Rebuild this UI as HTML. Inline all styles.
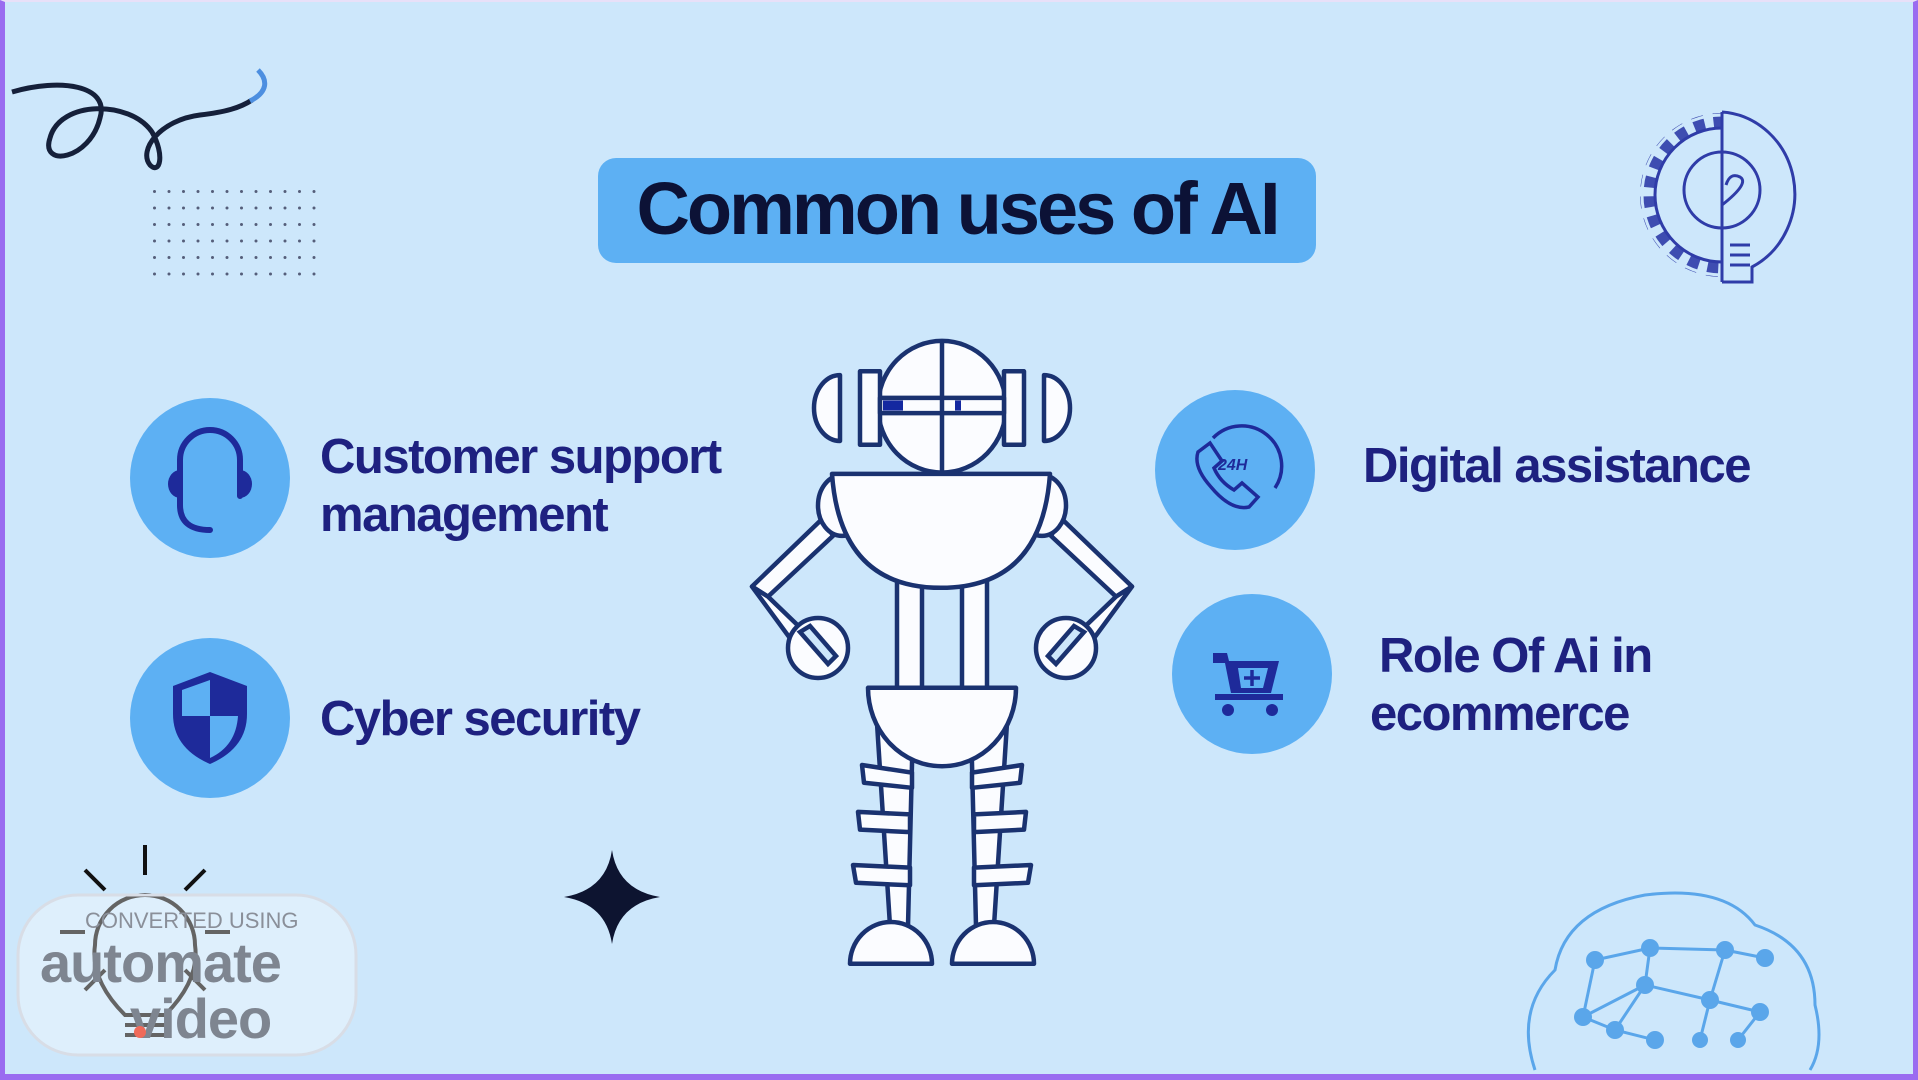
<!DOCTYPE html>
<html><head><meta charset="utf-8"><style>
html,body{margin:0;padding:0}
body{width:1918px;height:1080px;overflow:hidden;background:#cde7fb;position:relative;font-family:"Liberation Sans",sans-serif}
.t{position:absolute;color:#1e2180;font-weight:bold;font-size:49px;letter-spacing:-1.5px;line-height:58px;white-space:nowrap}
</style></head><body>
<div style="position:absolute;left:0;top:0;width:1918px;height:1080px;box-sizing:border-box;border-left:5px solid #9a6cf0;border-right:5px solid #9a6cf0;border-bottom:6px solid #9a6cf0;border-top:2px solid #e8e0f8"></div>
<div style="position:absolute;left:598px;top:158px;width:718px;height:105px;background:#5db0f3;border-radius:18px"></div>
<div style="position:absolute;left:598px;top:156px;width:718px;height:105px;line-height:105px;text-align:center;font-weight:bold;font-size:74px;color:#0c1236;letter-spacing:-3px">Common uses of AI</div>

<div class="t" style="left:320px;top:428px">Customer support<br>management</div>
<div class="t" style="left:320px;top:690px">Cyber security</div>
<div class="t" style="left:1363px;top:437px">Digital assistance</div>
<div class="t" style="left:1379px;top:627px">Role Of Ai in</div>
<div class="t" style="left:1370px;top:685px">ecommerce</div>

<svg width="1918" height="1080" style="position:absolute;left:0;top:0">
<g fill="#5db0f3">
<circle cx="210" cy="478" r="80"/><circle cx="210" cy="718" r="80"/>
<circle cx="1235" cy="470" r="80"/><circle cx="1252" cy="674" r="80"/>
</g>
<g stroke="#1e2a9a" fill="none" stroke-width="6" stroke-linecap="round">
<path d="M180 505 V460 a30 30 0 0 1 60 0 V496"/>
<path d="M180 505 q0 25 30 25"/>
</g>
<g fill="#1e2a9a"><path d="M180 470 a12 14 0 0 0 0 28z"/><path d="M240 470 a12 14 0 0 1 0 28z"/></g>
<path d="M210 672 l-37 14 v28 q0 34 37 50 q37-16 37-50 v-28z" fill="#1e2a9a"/>
<path d="M210 680 v36 h-28 v-26z M210 716 h28 q-2 30 -28 42z" fill="#5db0f3"/>
<g stroke="#1e2a9a" fill="none" stroke-width="3.5">
<path d="M1198 452 l12-9 l12 18 l-8 7 q6 14 20 22 l8-7 l16 14 l-9 10 q-18 4 -38 -20 q-18 -20 -13 -35z"/>
<path d="M1213 438 a40 40 0 0 1 62 50"/>
</g>
<text x="1218" y="470" font-family="Liberation Sans" font-weight="bold" font-style="italic" font-size="16" fill="#1e2a9a">24H</text>
<g fill="#1e2a9a">
<path d="M1213 653 h14 l2 8 h50 l-8 32 h-40 l-6 -30 h-12z"/>
<rect x="1215" y="694" width="68" height="6"/>
<circle cx="1228" cy="710" r="6"/><circle cx="1272" cy="710" r="6"/>
</g>
<path d="M1238 668 h30 l-5 20 h-22z" fill="#5db0f3"/>
<path d="M1252 670 v16 M1244 678 h16" stroke="#1e2a9a" stroke-width="3.5"/>

<!-- robot -->
<g transform="translate(0,327) scale(1,1.266) translate(0,-327)">
<g stroke="#1a3270" stroke-width="4.5" fill="#fbfcff" stroke-linejoin="round">
<path vector-effect="non-scaling-stroke" d="M752 532 L823 478 L833 492 L768 540z"/>
<path vector-effect="non-scaling-stroke" d="M752 532 L806 590 L818 578 L768 540z"/>
<path vector-effect="non-scaling-stroke" d="M1132 532 L1061 478 L1051 492 L1116 540z"/>
<path vector-effect="non-scaling-stroke" d="M1132 532 L1078 590 L1066 578 L1116 540z"/>
<circle vector-effect="non-scaling-stroke" cx="842" cy="468" r="24"/><circle vector-effect="non-scaling-stroke" cx="1042" cy="468" r="24"/>
<rect vector-effect="non-scaling-stroke" x="897" y="520" width="25" height="92"/><rect vector-effect="non-scaling-stroke" x="962" y="520" width="25" height="92"/>
<path vector-effect="non-scaling-stroke" d="M877 640 L913 640 L908 800 L890 800z"/><path vector-effect="non-scaling-stroke" d="M1007 640 L971 640 L976 800 L994 800z"/>
<path vector-effect="non-scaling-stroke" d="M862 673 l50 6 l0 12 l-48 -4z"/><path vector-effect="non-scaling-stroke" d="M858 710 l52 2 l0 14 l-50 -2z"/><path vector-effect="non-scaling-stroke" d="M853 752 l57 2 l0 14 l-54 -2z"/>
<path vector-effect="non-scaling-stroke" d="M1022 673 l-50 6 l0 12 l48 -4z"/><path vector-effect="non-scaling-stroke" d="M1026 710 l-52 2 l0 14 l50 -2z"/><path vector-effect="non-scaling-stroke" d="M1031 752 l-57 2 l0 14 l54 -2z"/>
<path vector-effect="non-scaling-stroke" d="M850 830 a41 33 0 0 1 82 0z"/><path vector-effect="non-scaling-stroke" d="M952 830 a41 33 0 0 1 82 0z"/>
<path vector-effect="non-scaling-stroke" d="M868 612 h148 a74 62 0 0 1 -148 0z"/>
<path vector-effect="non-scaling-stroke" d="M832 443 h218 q-8 90 -109 90 q-101 0 -109 -90z"/>
<path vector-effect="non-scaling-stroke" d="M840 365 a26 26 0 0 0 0 52z M1044 365 a26 26 0 0 1 0 52z"/>
<ellipse vector-effect="non-scaling-stroke" cx="942" cy="390" rx="64" ry="52"/>
<rect vector-effect="non-scaling-stroke" x="860" y="362" width="20" height="58"/><rect vector-effect="non-scaling-stroke" x="1004" y="362" width="20" height="58"/>
<rect vector-effect="non-scaling-stroke" x="880" y="383" width="124" height="12"/>
<path vector-effect="non-scaling-stroke" d="M942 338 V443"/>
</g>
<rect x="883" y="385" width="20" height="8" fill="#1428a0"/><rect x="955" y="385" width="6" height="8" fill="#1428a0"/>
</g>
<g stroke="#1a3270" stroke-width="4.5" fill="#fbfcff">
<circle cx="818" cy="648" r="30"/><circle cx="1066" cy="648" r="30"/>
<path d="M800 632 l10 -6 l26 30 l-8 8z M1084 632 l-10 -6 l-26 30 l8 8z" fill="#cde7fb"/>
</g>

<!-- squiggle -->
<path d="M12 92 C60 78 110 85 100 118 C90 160 40 168 50 138 C60 100 130 100 152 132 C165 155 160 175 150 165 C138 150 160 120 200 115 C225 112 240 108 252 100" stroke="#15203a" stroke-width="5" fill="none"/>
<path d="M250 101 C268 92 268 80 258 70" stroke="#4d8fe0" stroke-width="5" fill="none"/>
<pattern id="d" x="153" y="190" width="14.5" height="16.5" patternUnits="userSpaceOnUse"><circle cx="1.5" cy="1.5" r="1.5" fill="#555e7a"/></pattern>
<rect x="150" y="188" width="166" height="92" fill="url(#d)"/>
<defs><clipPath id="lh"><rect x="1620" y="100" width="102" height="200"/></clipPath></defs>
<g stroke="#2f3ca8" stroke-width="3" fill="none">
<g clip-path="url(#lh)">
<circle cx="1722" cy="195" r="74" stroke-width="16" stroke-dasharray="11 9" opacity="0.9"/>
<circle cx="1722" cy="195" r="80" stroke="#cde7fb" stroke-width="3"/>
<circle cx="1722" cy="195" r="67"/>
</g>
<path d="M1722 112 V282 M1722 112 a78 82 0 0 1 30 155 v15 h-30"/>
<circle cx="1722" cy="190" r="38"/>
<path d="M1730 245 h20 M1730 255 h20 M1730 265 h20"/>
<path d="M1722 205 q28 -22 18 -28 q-10 -5 -14 8"/>
</g>
<path d="M612 850 q6 40 48 47 q-42 7 -48 47 q-6 -40 -48 -47 q42 -7 48 -47z" fill="#0d1430"/>
<g stroke="#111" stroke-width="4" fill="none">
<path d="M145 845 v30 M85 870 l20 20 M205 870 l-20 20 M60 932 h25 M205 932 h25 M85 990 l20 -20 M205 990 l-20 -20"/>
<path d="M125 1015 q-35 -35 -30 -70 a50 50 0 0 1 100 0 q5 35 -30 70z M125 1025 h40 M125 1035 h40"/>
</g>
<g stroke="#5aa6ea" stroke-width="3" fill="none">
<path d="M1535 1070 q-20 -60 20 -100 q10 -60 90 -75 q80 -10 110 30 q60 20 60 80 q10 40 -5 65"/>
<path d="M1595 960 L1650 948 L1725 950 L1765 958 M1650 948 L1645 985 L1710 1000 L1760 1012 M1595 960 L1583 1017 L1615 1030 L1655 1040 M1645 985 L1615 1030 M1710 1000 L1700 1040 M1725 950 L1710 1000 M1583 1017 L1645 985 M1760 1012 L1738 1040"/>
</g>
<g fill="#5aa6ea">
<circle cx="1595" cy="960" r="9"/><circle cx="1650" cy="948" r="9"/><circle cx="1725" cy="950" r="9"/><circle cx="1765" cy="958" r="9"/>
<circle cx="1645" cy="985" r="9"/><circle cx="1710" cy="1000" r="9"/><circle cx="1760" cy="1012" r="9"/><circle cx="1583" cy="1017" r="9"/>
<circle cx="1615" cy="1030" r="9"/><circle cx="1655" cy="1040" r="9"/><circle cx="1700" cy="1040" r="8"/><circle cx="1738" cy="1040" r="8"/>
</g>
<rect x="18" y="895" width="338" height="160" rx="60" fill="#ffffff" fill-opacity="0.35" stroke="#d8dde6" stroke-width="3"/>
<text x="85" y="928" font-family="Liberation Sans" font-size="22" fill="#8a8f99">CONVERTED USING</text>
<text x="40" y="982" font-family="Liberation Sans" font-weight="bold" font-size="56" fill="#7e8590" letter-spacing="-1">automate</text>
<text x="130" y="1038" font-family="Liberation Sans" font-weight="bold" font-size="56" fill="#7e8590" letter-spacing="-1">video</text>
<circle cx="140" cy="1032" r="6" fill="#f06a5a"/>
</svg>
</body></html>
